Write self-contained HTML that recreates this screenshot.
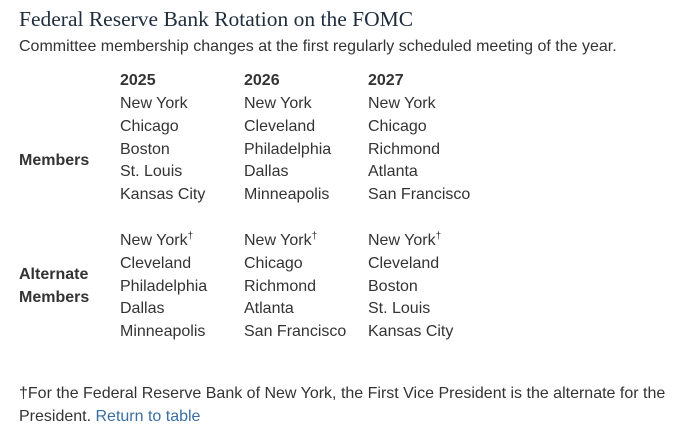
<!DOCTYPE html>
<html><head><meta charset="utf-8"><style>
body{margin:0;width:685px;height:434px;background:#fff;font-family:"Liberation Sans",sans-serif;color:#333;position:relative;overflow:hidden}
div{position:absolute;white-space:nowrap;line-height:20px;font-size:16px}
.t{font-family:"Liberation Serif",serif;font-size:21.5px;color:#1f2d3d;left:19px;top:6px;line-height:26px}
b{font-weight:bold}
sup{font-size:10px;line-height:0;vertical-align:6px}
a{color:#3a6ea5;text-decoration:none}
</style></head><body>
<div class="t">Federal Reserve Bank Rotation on the FOMC</div>
<div style="left:19px;top:37px">Committee membership changes at the first regularly scheduled meeting of the year.</div>
<div style="left:120px;top:71px"><b>2025</b></div>
<div style="left:244px;top:71px"><b>2026</b></div>
<div style="left:368px;top:71px"><b>2027</b></div>
<div style="left:19px;top:151px"><b>Members</b></div>
<div style="left:19px;top:263px;line-height:23px"><b>Alternate<br>Members</b></div>
<div style="left:120px;top:93px;line-height:22.8px">New York<br>Chicago<br>Boston<br>St. Louis<br>Kansas City</div>
<div style="left:244px;top:93px;line-height:22.8px">New York<br>Cleveland<br>Philadelphia<br>Dallas<br>Minneapolis</div>
<div style="left:368px;top:93px;line-height:22.8px">New York<br>Chicago<br>Richmond<br>Atlanta<br>San Francisco</div>
<div style="left:120px;top:230px;line-height:22.8px">New York<sup>†</sup><br>Cleveland<br>Philadelphia<br>Dallas<br>Minneapolis</div>
<div style="left:244px;top:230px;line-height:22.8px">New York<sup>†</sup><br>Chicago<br>Richmond<br>Atlanta<br>San Francisco</div>
<div style="left:368px;top:230px;line-height:22.8px">New York<sup>†</sup><br>Cleveland<br>Boston<br>St. Louis<br>Kansas City</div>
<div style="left:19px;top:382px;line-height:23px">†For the Federal Reserve Bank of New York, the First Vice President is the alternate for the<br>President. <a>Return to table</a></div>
</body></html>
